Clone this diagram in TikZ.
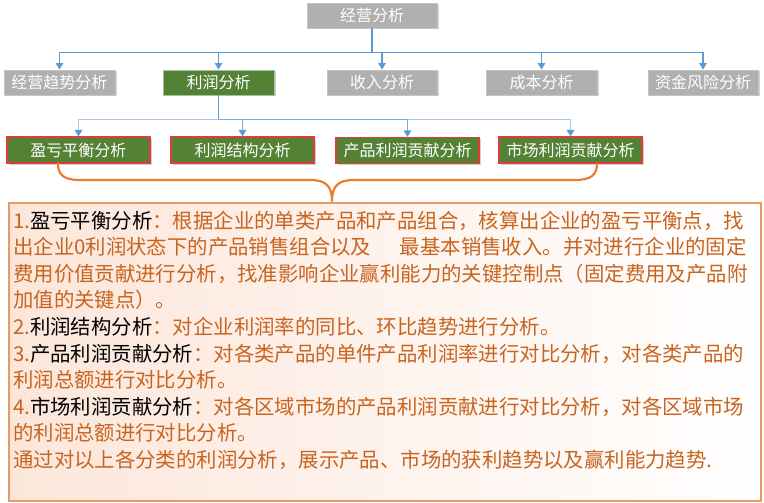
\documentclass[tikz,border=0pt]{standalone}
\usepackage{fontspec}
\setmainfont{Noto Sans CJK SC}
\usetikzlibrary{arrows.meta,shadows}
\definecolor{grayfill}{HTML}{B0B0B0}
\definecolor{grayline}{HTML}{C4C4C4}
\definecolor{greenfill}{HTML}{548235}
\definecolor{greenline}{HTML}{A9BFA0}
\definecolor{redline}{HTML}{E03C3C}
\definecolor{blueA}{HTML}{5B9BD5}
\definecolor{blueL}{HTML}{A8CBEA}
\definecolor{blueM}{HTML}{78AADC}
\definecolor{braceor}{HTML}{ED7D31}
\definecolor{txtor}{HTML}{C8641E}
\definecolor{boxline}{HTML}{E89A62}
\definecolor{boxpink}{HTML}{FCE6DA}
\begin{document}
\begin{tikzpicture}[x=1pt,y=-1pt,
  box/.style={rectangle,inner sep=0pt,text=white,
    font=\fontsize{16}{18}\selectfont,
    drop shadow={shadow xshift=1.5pt,shadow yshift=-1.5pt,fill=black!18,opacity=1}},
  graybox/.style={box,fill=grayfill,draw=grayline,line width=0.8pt},
  greenbox/.style={box,fill=greenfill,draw=greenline,line width=0.8pt},
  leafbox/.style={box,fill=greenfill,draw=redline,line width=1.1pt,minimum width=143pt,minimum height=26pt},
  lvtwo/.style={minimum height=25pt},
  tip/.style={-{Triangle[width=7.5pt,length=6.5pt,fill=blueA,color=blueA]}},
  conA/.style={draw=blueA,line width=1.3pt},
  conL/.style={draw=blueL,line width=1.8pt},
  conM/.style={draw=blueM,line width=1.8pt},
  line/.style={anchor=base west,inner sep=0pt,text=txtor,font=\fontsize{20.4}{24}\selectfont},
  lab/.style={text=black}
]
\useasboundingbox (0,0) rectangle (764,503);

% description box
\node[rectangle,inner sep=0pt,minimum width=752pt,minimum height=298pt,
  draw=boxline,line width=1.4pt,left color=boxpink,right color=white] (desc) at (385,352) {};

% boxes
\node[graybox,minimum width=130pt,minimum height=25pt] (top) at (372,15.5) {经营分析};
\node[graybox,lvtwo,minimum width=111pt] (a1) at (59.5,82.5) {经营趋势分析};
\node[greenbox,lvtwo,minimum width=111pt] (a2) at (218.5,82.5) {利润分析};
\node[graybox,lvtwo,minimum width=110pt] (a3) at (382,82.5) {收入分析};
\node[graybox,lvtwo,minimum width=111pt] (a4) at (541.5,82.5) {成本分析};
\node[graybox,lvtwo,minimum width=110pt] (a5) at (703,82.5) {资金风险分析};

\node[leafbox] (b1) at (78.5,150) {盈亏平衡分析};
\node[leafbox] (b2) at (242.5,150) {利润结构分析};
\node[leafbox] (b3) at (407.5,150.5) {产品利润贡献分析};
\node[leafbox] (b4) at (570.5,150) {市场利润贡献分析};

% connectors level 1 -> 2
\coordinate (j1) at (372,52.5);
\draw[blueA,line width=2pt] (top.south) -- (j1);
\foreach \n in {a1,a2,a3,a4,a5}{
  \draw[conA,tip] (j1) -| (\n.north);
}

% connectors level 2 -> 3
\coordinate (j2) at (218.5,119.5);
\draw[conL,tip] (j2) -| (b1.north);
\draw[conL,tip] (j2) -| (b4.north);
\draw[conM,tip] (j2) -| (b3.north);
\draw[conM,tip] (j2) -| (b2.north);
\draw[blueA,line width=1.6pt] (a2.south) -- (j2);

% brace
\coordinate (brL) at (58,163.5);
\coordinate (brR) at (597,163.5);
\coordinate (brM) at (332,201.5);
\draw[braceor,line width=2.2pt,line cap=round]
  (brL) .. controls (58,175) and (64,180) .. (80,180)
  -- (310,180) .. controls (326,180) and (332,186) .. (brM)
  .. controls (332,186) and (338,180) .. (354,180)
  -- (575,180) .. controls (591,180) and (597,175) .. (brR);

% text lines
\node[line] (t1) at (13,228) {1.\textcolor{black}{盈亏平衡分析}：根据企业的单类产品和产品组合，核算出企业的盈亏平衡点，找};
\node[line] (t2) at (13,254.6) {出企业0利润状态下的产品销售组合以及\hspace{1.4em}最基本销售收入。并对进行企业的固定};
\node[line] (t3) at (13,281.2) {费用价值贡献进行分析，找准影响企业赢利能力的关键控制点（固定费用及产品附};
\node[line] (t4) at (13,307.8) {加值的关键点）。};
\node[line] (t5) at (13,334.4) {2.\textcolor{black}{利润结构分析}：对企业利润率的同比、环比趋势进行分析。};
\node[line] (t6) at (13,361) {3.\textcolor{black}{产品利润贡献分析}：对各类产品的单件产品利润率进行对比分析，对各类产品的};
\node[line] (t7) at (13,387.6) {利润总额进行对比分析。};
\node[line] (t8) at (13,414.2) {4.\textcolor{black}{市场利润贡献分析}：对各区域市场的产品利润贡献进行对比分析，对各区域市场};
\node[line] (t9) at (13,440.8) {的利润总额进行对比分析。};
\node[line] (t10) at (13,467.4) {通过对以上各分类的利润分析，展示产品、市场的获利趋势以及赢利能力趋势.};
\end{tikzpicture}
\end{document}
